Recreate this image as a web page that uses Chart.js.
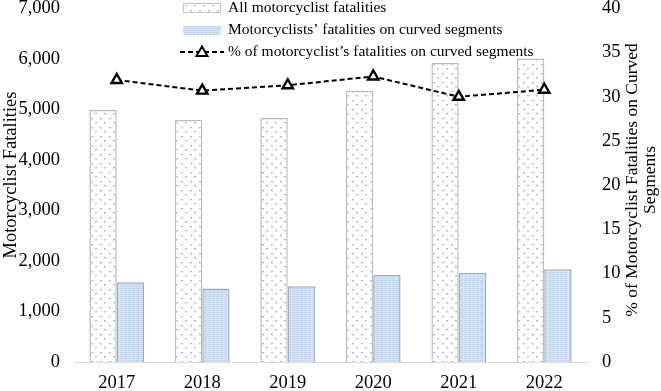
<!DOCTYPE html>
<html>
<head>
<meta charset="utf-8">
<script src="https://cdn.jsdelivr.net/npm/chart.js@4.4.1/dist/chart.umd.min.js"></script>
<style>
  html, body { margin: 0; padding: 0; background: #fff; }
  #wrap { width: 661px; height: 391px; position: relative; }
</style>
</head>
<body>
<div id="wrap"><canvas id="c" width="661" height="391"></canvas></div>
<script>
// ---- data ----
const years = ['2017', '2018', '2019', '2020', '2021', '2022'];
const allFatalities = [4990, 4790, 4830, 5370, 5920, 6010];
const curvedFatalities = [1580, 1455, 1500, 1720, 1765, 1835];
const curvedPercent = [31.9, 30.7, 31.3, 32.3, 30.0, 30.8];
const leftTicks = [0, 1000, 2000, 3000, 4000, 5000, 6000, 7000];
const rightTicks = [0, 5, 10, 15, 20, 25, 30, 35, 40];
const legendLabels = [
  'All motorcyclist fatalities',
  'Motorcyclists\u2019 fatalities on curved segments',
  '% of motorcyclist\u2019s fatalities on curved segments'
];
const leftTitle = 'Motorcyclist Fatalities';
const rightTitle = ['% of Motorcyclist Fatalities on Curved', 'Segments'];

const FONT = "'Liberation Serif', 'Times New Roman', serif";

function dotPattern() {
  const c = document.createElement('canvas');
  c.width = 9; c.height = 9;
  const x = c.getContext('2d');
  x.fillStyle = '#ffffff'; x.fillRect(0, 0, 9, 9);
  x.fillStyle = '#9cc2ec';
  x.fillRect(1, 1, 2, 1);
  x.fillRect(5, 5, 2, 1);
  x.fillStyle = '#d4e5f8';
  x.fillRect(1, 2, 2, 1);
  x.fillRect(5, 6, 2, 1);
  return x.createPattern(c, 'repeat');
}
function densePattern() {
  const c = document.createElement('canvas');
  c.width = 4; c.height = 2;
  const x = c.getContext('2d');
  x.fillStyle = '#dce9f9'; x.fillRect(0, 0, 4, 2);
  x.fillStyle = '#b7d2f2';
  x.fillRect(0, 0, 3, 1);
  x.fillStyle = '#cde0f6';
  x.fillRect(2, 1, 2, 1);
  return x.createPattern(c, 'repeat');
}
const patAll = dotPattern();
const patCurved = densePattern();

const customDraw = {
  id: 'customDraw',
  afterDraw(chart) {
    const ctx = chart.ctx;
    ctx.save();
    ctx.fillStyle = '#000';
    // left title
    ctx.font = '18.5px ' + FONT;
    ctx.textAlign = 'center';
    ctx.textBaseline = 'middle';
    ctx.save();
    ctx.translate(11, 175);
    ctx.rotate(-Math.PI / 2);
    ctx.fillText(leftTitle, 0, 0);
    ctx.restore();
    // right title
    ctx.font = '17.5px ' + FONT;
    ctx.save();
    ctx.translate(632, 180);
    ctx.rotate(-Math.PI / 2);
    ctx.fillText(rightTitle[0], 0, 0);
    ctx.fillText(rightTitle[1], 0, 18);
    ctx.restore();

    // legend
    const tx = 228;
    const ys = [8, 30, 52];
    ctx.font = '15.5px ' + FONT;
    ctx.textAlign = 'left';
    legendLabels.forEach((t, i) => ctx.fillText(t, tx, ys[i]));
    // marker 1
    ctx.fillStyle = patAll;
    ctx.fillRect(183, 3, 38, 10);
    ctx.strokeStyle = '#c4c4c4';
    ctx.lineWidth = 1;
    ctx.strokeRect(183.5, 3.5, 37, 9);
    // marker 2
    ctx.fillStyle = patCurved;
    ctx.fillRect(183, 26, 38, 9);
    // marker 3
    ctx.strokeStyle = '#000';
    ctx.lineWidth = 2;
    ctx.setLineDash([5, 3]);
    ctx.beginPath();
    ctx.moveTo(180, 52); ctx.lineTo(224, 52);
    ctx.stroke();
    ctx.setLineDash([]);
    ctx.beginPath();
    ctx.moveTo(202, 46.5); ctx.lineTo(207.5, 56); ctx.lineTo(196.5, 56); ctx.closePath();
    ctx.fillStyle = '#fff';
    ctx.fill();
    ctx.stroke();
    ctx.restore();
  }
};

new Chart(document.getElementById('c'), {
  type: 'bar',
  data: {
    labels: years,
    datasets: [
      {
        type: 'line',
        label: legendLabels[2],
        data: curvedPercent,
        yAxisID: 'y1',
        order: 0,
        borderColor: '#000',
        borderWidth: 2,
        borderDash: [5, 3],
        pointStyle: 'triangle',
        pointRadius: 6,
        pointBackgroundColor: '#fff',
        pointBorderColor: '#000',
        pointBorderWidth: 2.4,
        tension: 0,
        fill: false
      },
      {
        label: legendLabels[0],
        data: allFatalities,
        yAxisID: 'y',
        order: 1,
        backgroundColor: patAll,
        borderColor: '#bdbdbd',
        borderWidth: 1.5,
        categoryPercentage: 0.64,
        barPercentage: 1.0
      },
      {
        label: legendLabels[1],
        data: curvedFatalities,
        yAxisID: 'y',
        order: 1,
        backgroundColor: patCurved,
        borderColor: '#ababab',
        borderWidth: 1.5,
        categoryPercentage: 0.64,
        barPercentage: 1.0
      }
    ]
  },
  options: {
    responsive: false,
    animation: false,
    devicePixelRatio: 1,
    layout: { padding: { top: 7, left: 0, right: 0, bottom: 0 } },
    plugins: { legend: { display: false }, tooltip: { enabled: false } },
    scales: {
      x: {
        grid: { display: false, drawTicks: false },
        border: { display: true, color: '#d9d9d9', width: 1 },
        ticks: { color: '#000', font: { family: FONT, size: 18.5 }, padding: 10, maxRotation: 0 },
        afterFit(s) { s.height = 29; s.paddingLeft = 0; s.paddingRight = 0; }
      },
      y: {
        position: 'left',
        min: 0, max: 7000,
        grid: { display: false, drawTicks: false },
        border: { display: false },
        afterBuildTicks(s) { s.ticks = leftTicks.map(v => ({ value: v })); },
        ticks: {
          color: '#000', font: { family: FONT, size: 18.5 }, padding: 14,
          callback: v => v.toLocaleString('en-US')
        },
        afterFit(s) { s.width = 74; s.paddingTop = 0; s.paddingBottom = 0; }
      },
      y1: {
        position: 'right',
        min: 0, max: 40,
        grid: { display: false, drawTicks: false },
        border: { display: false },
        afterBuildTicks(s) { s.ticks = rightTicks.map(v => ({ value: v })); },
        ticks: { color: '#000', font: { family: FONT, size: 18.5 }, padding: 15 },
        afterFit(s) { s.width = 74; s.paddingTop = 0; s.paddingBottom = 0; }
      }
    }
  },
  plugins: [customDraw]
});
</script>
</body>
</html>
